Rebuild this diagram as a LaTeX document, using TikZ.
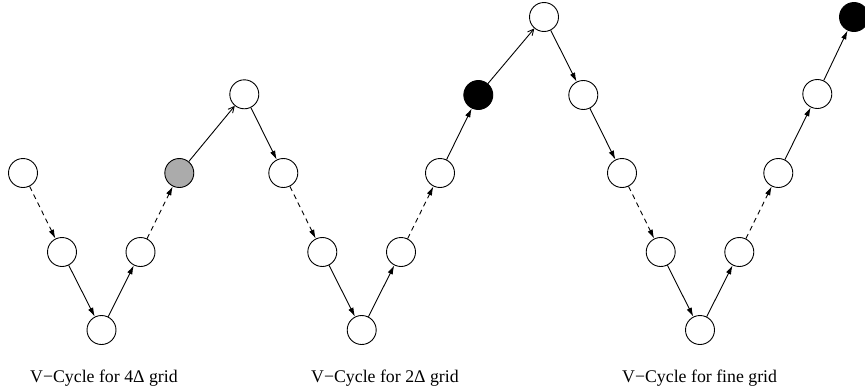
\documentclass[tikz,border=0pt]{standalone}
\usepackage{fontspec}
\setmainfont{Liberation Serif}
\usetikzlibrary{arrows.meta}

\begin{document}
\begin{tikzpicture}[x=1pt,y=-1pt,
  vnode/.style={circle,draw=black,line width=0.9pt,fill=white,minimum size=29pt,inner sep=0pt},
  edge/.style={line width=0.9pt,-{Latex[length=9pt,width=5.5pt]}},
  upedge/.style={line width=0.9pt,-{Straight Barb[length=6pt,width=6pt]}},
  dashedge/.style={edge,dash pattern=on 5pt off 4pt},
  caption/.style={anchor=base west,font=\fontsize{17.8}{20}\selectfont,inner sep=0pt}]
\useasboundingbox (0,0) rectangle (865,391);

% first V-cycle
\node[vnode] (a1) at (23,173) {};
\node[vnode] (a2) at (62,252) {};
\node[vnode] (a3) at (101.5,330) {};
\node[vnode] (a4) at (140.5,252) {};
\node[vnode,fill=black!33] (a5) at (179.3,173) {};
\node[vnode] (t1) at (244.3,94.3) {};
% second V-cycle
\node[vnode] (b1) at (283.3,173) {};
\node[vnode] (b2) at (322.3,252) {};
\node[vnode] (b3) at (361.7,330) {};
\node[vnode] (b4) at (401,252) {};
\node[vnode] (b5) at (440,173) {};
\node[vnode,fill=black] (b6) at (478.3,95) {};
\node[vnode] (t2) at (544,17) {};
% third V-cycle
\node[vnode] (c1) at (583.3,95) {};
\node[vnode] (c2) at (622,173) {};
\node[vnode] (c3) at (660.7,252) {};
\node[vnode] (c4) at (700,330) {};
\node[vnode] (c5) at (739.3,252) {};
\node[vnode] (c6) at (778.3,173) {};
\node[vnode] (c7) at (817.3,94) {};
\node[vnode,fill=black] (c8) at (854,17) {};

\foreach \s/\t in {a1/a2,a4/a5,b1/b2,b4/b5,c2/c3,c5/c6}
  \draw[dashedge] (\s) -- (\t);
\foreach \s/\t in {a2/a3,a3/a4,t1/b1,b2/b3,b3/b4,b5/b6,t2/c1,c1/c2,c3/c4,c4/c5,c6/c7,c7/c8}
  \draw[edge] (\s) -- (\t);
\draw[upedge] (a5) -- (t1);
\draw[upedge] (b6) -- (t2);

\node[caption] (l1) at (30,382) {V−Cycle for 4Δ grid};
\node[caption] (l2) at (311,382) {V−Cycle for 2Δ grid};
\node[caption] (l3) at (622,382) {V−Cycle for fine grid};
\end{tikzpicture}
\end{document}
